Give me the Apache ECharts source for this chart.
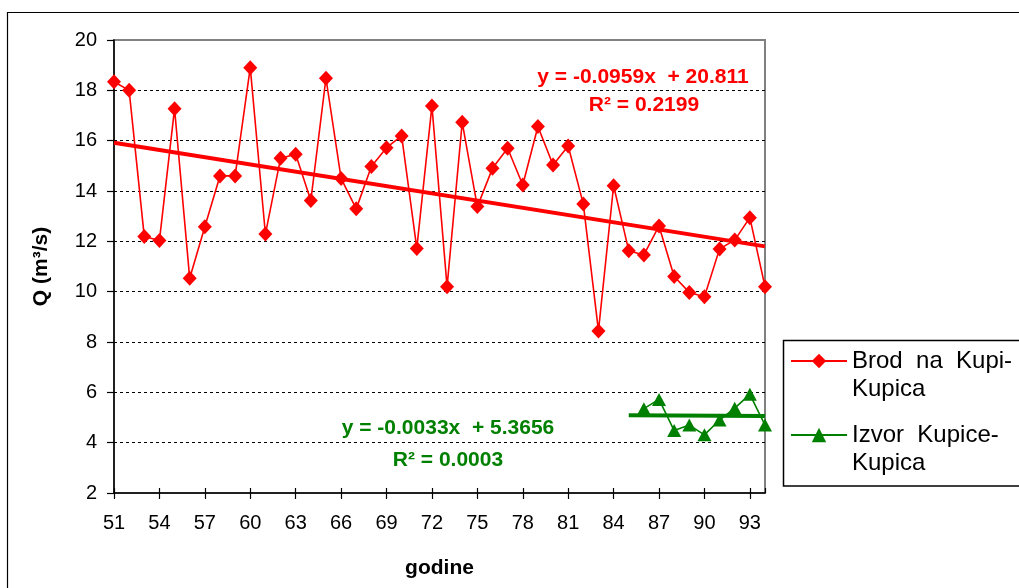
<!DOCTYPE html>
<html><head><meta charset="utf-8">
<script src="https://cdn.jsdelivr.net/npm/echarts@6/dist/echarts.min.js"></script>
<style>html,body{margin:0;padding:0;background:#fff}#c{width:1019px;height:588px}</style>
</head><body><div id="c"></div>
<script>
// ---- data ----
const years = [51,52,53,54,55,56,57,58,59,60,61,62,63,64,65,66,67,68,69,70,71,72,73,74,75,76,77,78,79,80,81,82,83,84,85,86,87,88,89,90,91,92,93,94];
const brodValues = [18.34,18.0,12.19,12.03,17.27,10.53,12.58,14.6,14.6,18.9,12.29,15.3,15.46,13.62,18.48,14.5,13.29,14.97,15.72,16.19,11.72,17.38,10.2,16.73,13.38,14.9,15.7,14.24,16.56,15.03,15.79,13.48,8.44,14.21,11.63,11.46,12.61,10.6,9.97,9.8,11.7,12.05,12.94,10.2];
const izvorYears = [86,87,88,89,90,91,92,93,94];
const izvorValues = [5.35,5.72,4.48,4.7,4.31,4.9,5.37,5.92,4.7];
const brodTrendX = [51,94];
const brodTrendY = [15.92,11.80];
const izvorTrendX = [85,94];
const izvorTrendY = [5.09,5.06];
const seriesNames = ['Brod na Kupi-Kupica','Izvor Kupice-Kupica'];
const legendLabels = ['\nBrod  na  Kupi-\nKupica','\nIzvor  Kupice-\nKupica'];
const brodEq = ['y = -0.0959x  + 20.811','R² = 0.2199'];
const izvorEq = ['y = -0.0033x  + 5.3656','R² = 0.0003'];
const xName = 'godine';
const yName = 'Q (m³/s)';

const zip = (xs, ys) => xs.map((x, i) => [x, ys[i]]);
const FONT = '"Liberation Sans", Arial, sans-serif';
const RED = '#ff0000', GREEN = '#008000';

const chart = echarts.init(document.getElementById('c'), null, {renderer: 'canvas'});
chart.setOption({
  animation: false,
  backgroundColor: '#fff',
  textStyle: {fontFamily: FONT},
  grid: {left: 114, right: 254, top: 40, bottom: 95, show: true, borderColor: '#808080', borderWidth: 2, backgroundColor: '#fff'},
  xAxis: [{
    type: 'value', min: 51, max: 94, interval: 3,
    name: xName, nameLocation: 'middle', nameGap: 65,
    nameTextStyle: {fontSize: 21, fontWeight: 'bold', color: '#000', fontFamily: FONT},
    axisLine: {lineStyle: {color: '#000', width: 1.5}},
    axisTick: {length: 6, lineStyle: {color: '#000', width: 1.2}},
    axisLabel: {fontSize: 20, color: '#000', margin: 20, showMaxLabel: false, fontFamily: FONT},
    splitLine: {show: false}
  }, {
    type: 'value', min: 51, max: 94, interval: 3, position: 'bottom',
    axisLine: {show: false},
    axisTick: {inside: true, length: 5, lineStyle: {color: '#000', width: 1.2}},
    axisLabel: {show: false}, splitLine: {show: false}
  }],
  yAxis: {
    type: 'value', min: 2, max: 20, interval: 2,
    name: yName, nameLocation: 'middle', nameGap: 62, nameRotate: 90,
    nameTextStyle: {fontSize: 21, fontWeight: 'bold', color: '#000', fontFamily: FONT},
    axisLine: {show: true, lineStyle: {color: '#000', width: 1.5}},
    axisTick: {show: true, length: 7, lineStyle: {color: '#000', width: 1.2}},
    axisLabel: {fontSize: 20, color: '#000', margin: 17, fontFamily: FONT},
    splitLine: {show: true, showMinLine: false, showMaxLine: false, lineStyle: {color: '#000', width: 1, type: [3, 3]}}
  },
  legend: {
    data: seriesNames,
    orient: 'vertical', left: 790, top: 319, padding: 0,
    itemWidth: 56, itemHeight: 18, itemGap: -10,
    formatter: name => legendLabels[seriesNames.indexOf(name)],
    textStyle: {fontSize: 24, color: '#000', fontFamily: FONT, lineHeight: 28}
  },
  series: [
    {name: 'trend1', type: 'line', data: zip(brodTrendX, brodTrendY), showSymbol: false, silent: true, z: 3,
     lineStyle: {color: RED, width: 4}, itemStyle: {color: RED}},
    {name: 'trend2', type: 'line', data: zip(izvorTrendX, izvorTrendY), showSymbol: false, silent: true, z: 3,
     lineStyle: {color: GREEN, width: 4}, itemStyle: {color: GREEN}},
    {name: seriesNames[0], type: 'line', data: zip(years, brodValues), symbol: 'diamond', symbolSize: [14, 15], z: 4,
     lineStyle: {color: RED, width: 1.6}, itemStyle: {color: RED}},
    {name: seriesNames[1], type: 'line', data: zip(izvorYears, izvorValues), symbol: 'triangle', symbolSize: [14, 13], z: 4,
     lineStyle: {color: GREEN, width: 1.6}, itemStyle: {color: GREEN}}
  ],
  graphic: [
    {type: 'rect', silent: true, z: -1, shape: {x: 7.5, y: 12.5, width: 1100, height: 700}, style: {fill: null, stroke: '#000', lineWidth: 1.2}},
    {type: 'rect', silent: true, shape: {x: 783.5, y: 340.5, width: 300, height: 145.5}, style: {fill: '#fff', stroke: '#000', lineWidth: 1.5}, z: 0},
    {type: 'text', silent: true, style: {text: brodEq[0], x: 643, y: 77, align: 'center', verticalAlign: 'middle', font: 'bold 21px ' + FONT, fill: RED}},
    {type: 'text', silent: true, style: {text: brodEq[1], x: 644, y: 105, align: 'center', verticalAlign: 'middle', font: 'bold 21px ' + FONT, fill: RED}},
    {type: 'text', silent: true, style: {text: izvorEq[0], x: 448, y: 428, align: 'center', verticalAlign: 'middle', font: 'bold 21px ' + FONT, fill: GREEN}},
    {type: 'text', silent: true, style: {text: izvorEq[1], x: 448, y: 460, align: 'center', verticalAlign: 'middle', font: 'bold 21px ' + FONT, fill: GREEN}}
  ]
});
</script></body></html>
